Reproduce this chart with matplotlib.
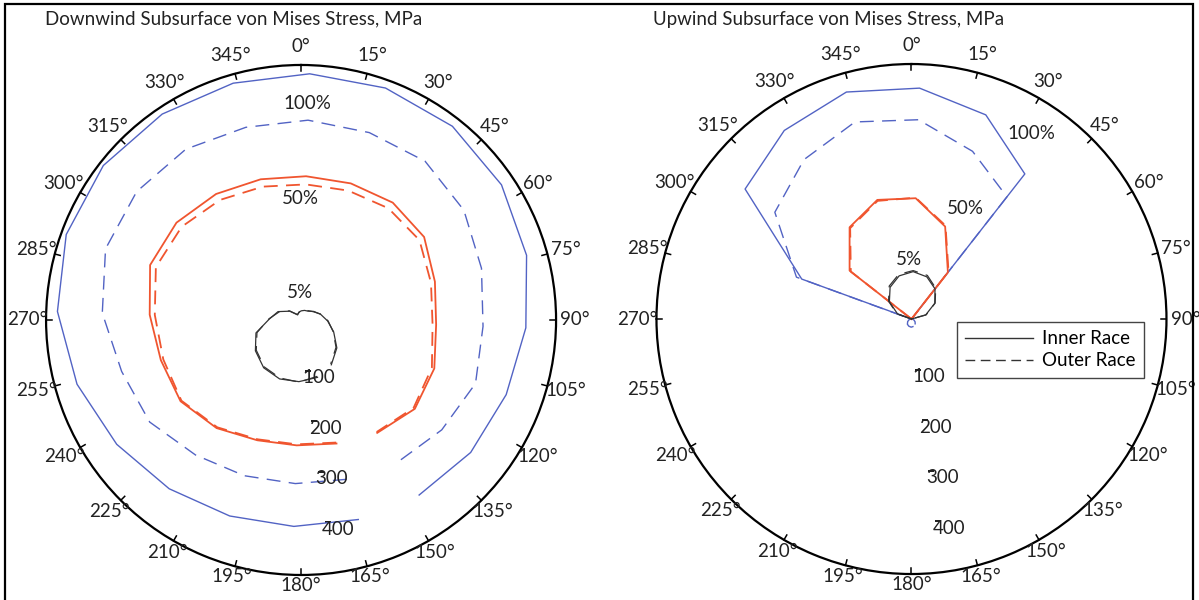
import numpy as np
import matplotlib
matplotlib.use('Agg')
import matplotlib.pyplot as plt
from matplotlib.lines import Line2D
from matplotlib.patches import Rectangle

plt.rcParams['font.family'] = ['Lato', 'DejaVu Sans']
plt.rcParams['lines.scale_dashes'] = False

# angular positions (deg, clockwise from top), start just after the gap
ang = [164, 182, 200, 218, 236, 254, 272, 290, 308, 326, 344,
       362, 380, 398, 416, 434, 452, 470, 488, 506]

# Downwind, MPa
dw_100_inner = [407, 405, 409, 420, 436, 457, 478, 490, 492, 487, 483,
                483, 484, 482, 474, 460, 441, 428, 422, 414]
dw_100_outer = [325, 321, 325, 336, 358, 366, 390, 408, 409, 404, 393,
                392, 391, 395, 385, 368, 357, 364, 350, 337]
dw_50_inner = [252, 246, 251, 269, 285, 286, 297, 315, 310, 298, 287,
               282, 285, 292, 291, 273, 265, 278, 283, 267]
dw_50_outer = [250, 244, 249, 267, 283, 281, 287, 303, 297, 284, 272,
               266, 270, 278, 280, 265, 258, 273, 280, 265]
dw_5_inner = [117, 121, 123, 119, 108, 92, 62, 48, 28, 12, 16,
              18, 20, 22, 30, 40, 52, 68, 89, 106]
dw_5_outer = [115, 122, 121, 117, 106, 90, 63, 46, 29, 13, 15,
              19, 21, 23, 29, 41, 53, 67, 87, 104]

# Upwind, MPa
uw_100_inner = [0, 0, 0, 0, 0, 0, 0, 229, 414, 446, 463,
                453, 426, 361, 0, 0, 0, 0, 0, 0]
uw_100_outer = [15, 16, 15, 13, 9, 5, 1, 240, 340, 377, 402,
                391, 350, 304, 0, 0, 1, 5, 9, 13]
uw_50_inner = [0, 0, 0, 0, 0, 0, 0, 0, 154, 217, 243,
               237, 193, 116, 0, 0, 0, 0, 0, 0]
uw_50_outer = [0, 0, 0, 0, 0, 0, 0, 0, 151, 215, 241,
               238, 195, 118, 0, 0, 0, 0, 0, 0]
uw_5_inner = [0, 0, 0, 0, 0, 0, 0, 29, 55, 75, 88,
              93, 88, 75, 55, 29, 0, 0, 0, 0]
uw_5_outer = [0, 0, 0, 0, 0, 0, 0, 31, 57, 78, 91,
              95, 91, 77, 56, 30, 0, 0, 0, 0]

r_ticks = [100, 200, 300, 400]
pct_labels = ['100%', '50%', '5%']

blue = '#5263c4'
red = '#f0552f'
black = '#333333'
dash = (0, (10, 6))
fs = 13.5

fig = plt.figure(figsize=(11.99, 6.0), dpi=100)
ax1 = fig.add_axes([0.0384, 0.0417, 0.4254, 0.85], projection='polar')
ax2 = fig.add_axes([0.5475, 0.0433, 0.4254, 0.85], projection='polar')

th = np.deg2rad(ang)


def setup(ax):
    ax.set_theta_zero_location('N')
    ax.set_theta_direction(-1)
    ax.set_ylim(0, 500)
    ax.grid(False)
    ax.set_xticks([])
    ax.set_yticks([])
    ax.spines['polar'].set_linewidth(1.6)
    ax.spines['polar'].set_color('black')
    for d in range(0, 360, 15):
        t = np.deg2rad(d)
        ax.plot([t, t], [489, 500], color='black', lw=1.1, clip_on=False)
        # labels sit a bit closer to the circle at the bottom
        rl = 537 - 17 * max(0.0, -np.cos(t)) ** 3
        ax.text(t, rl, '%d°' % d, ha='center', va='center',
                fontsize=fs, color='#222222', clip_on=False)
    for r in r_ticks:
        ax.plot(np.deg2rad(172.5), r, marker='_', ms=4, mew=1.2,
                color='#222222')
        ax.annotate(str(r), (np.deg2rad(172.5), r), xytext=(-4, -5),
                    textcoords='offset points', ha='left', va='center',
                    fontsize=fs, color='#222222')


setup(ax1)
ax1.plot(th, dw_100_inner, color=blue, lw=1.0)
ax1.plot(th, dw_100_outer, color=blue, lw=1.0, ls=dash)
ax1.plot(th, dw_50_inner, color=red, lw=1.3)
ax1.plot(th, dw_50_outer, color=red, lw=1.3, ls=dash)
ax1.plot(th, dw_5_inner, color=black, lw=0.9)
ax1.plot(th, dw_5_outer, color=black, lw=0.9, ls=dash)

setup(ax2)
ax2.plot(th, uw_100_inner, color=blue, lw=1.0)
ax2.plot(th, uw_100_outer, color=blue, lw=1.0, ls=dash)
ax2.plot(th, uw_50_inner, color=red, lw=1.3)
ax2.plot(th, uw_50_outer, color=red, lw=1.3, ls=dash)
ax2.plot(th, uw_5_inner, color=black, lw=0.9)
ax2.plot(th, uw_5_outer, color=black, lw=0.9, ls=dash)

# load level labels
for (x, y), s in zip([(0.512, 0.925), (0.498, 0.739), (0.498, 0.553)], pct_labels):
    ax1.text(x, y, s, transform=ax1.transAxes, ha='center', va='center',
             fontsize=fs, color='#222222')
for (x, y), s in zip([(0.736, 0.864), (0.606, 0.717), (0.496, 0.616)], pct_labels):
    ax2.text(x, y, s, transform=ax2.transAxes, ha='center', va='center',
             fontsize=fs, color='#222222')

fig.text(45 / 1199, 1 - 19 / 600, 'Downwind Subsurface von Mises Stress, MPa',
         ha='left', va='center', fontsize=13.5, color='#222222')
fig.text(653 / 1199, 1 - 19 / 600, 'Upwind Subsurface von Mises Stress, MPa',
         ha='left', va='center', fontsize=13.5, color='#222222')

handles = [Line2D([], [], color=black, lw=1.0),
           Line2D([], [], color=black, lw=1.0, ls=(0, (7, 4)))]
leg = ax2.legend(handles, ['Inner Race', 'Outer Race'], loc='upper left',
                 bbox_to_anchor=(957 / 1199, 1 - 322 / 600),
                 bbox_transform=fig.transFigure, borderaxespad=0,
                 fancybox=False, framealpha=1, edgecolor='#444444',
                 fontsize=fs, handlelength=3.6, handletextpad=0.5,
                 labelspacing=0.25, borderpad=0.45)
leg.get_frame().set_linewidth(1.0)

fig.patches.append(Rectangle((5 / 1199, -0.05), 1188 / 1199, 1.05 - 4 / 600,
                             transform=fig.transFigure, fill=False,
                             edgecolor='black', lw=1.6))

fig.savefig('out.png', dpi=100)
